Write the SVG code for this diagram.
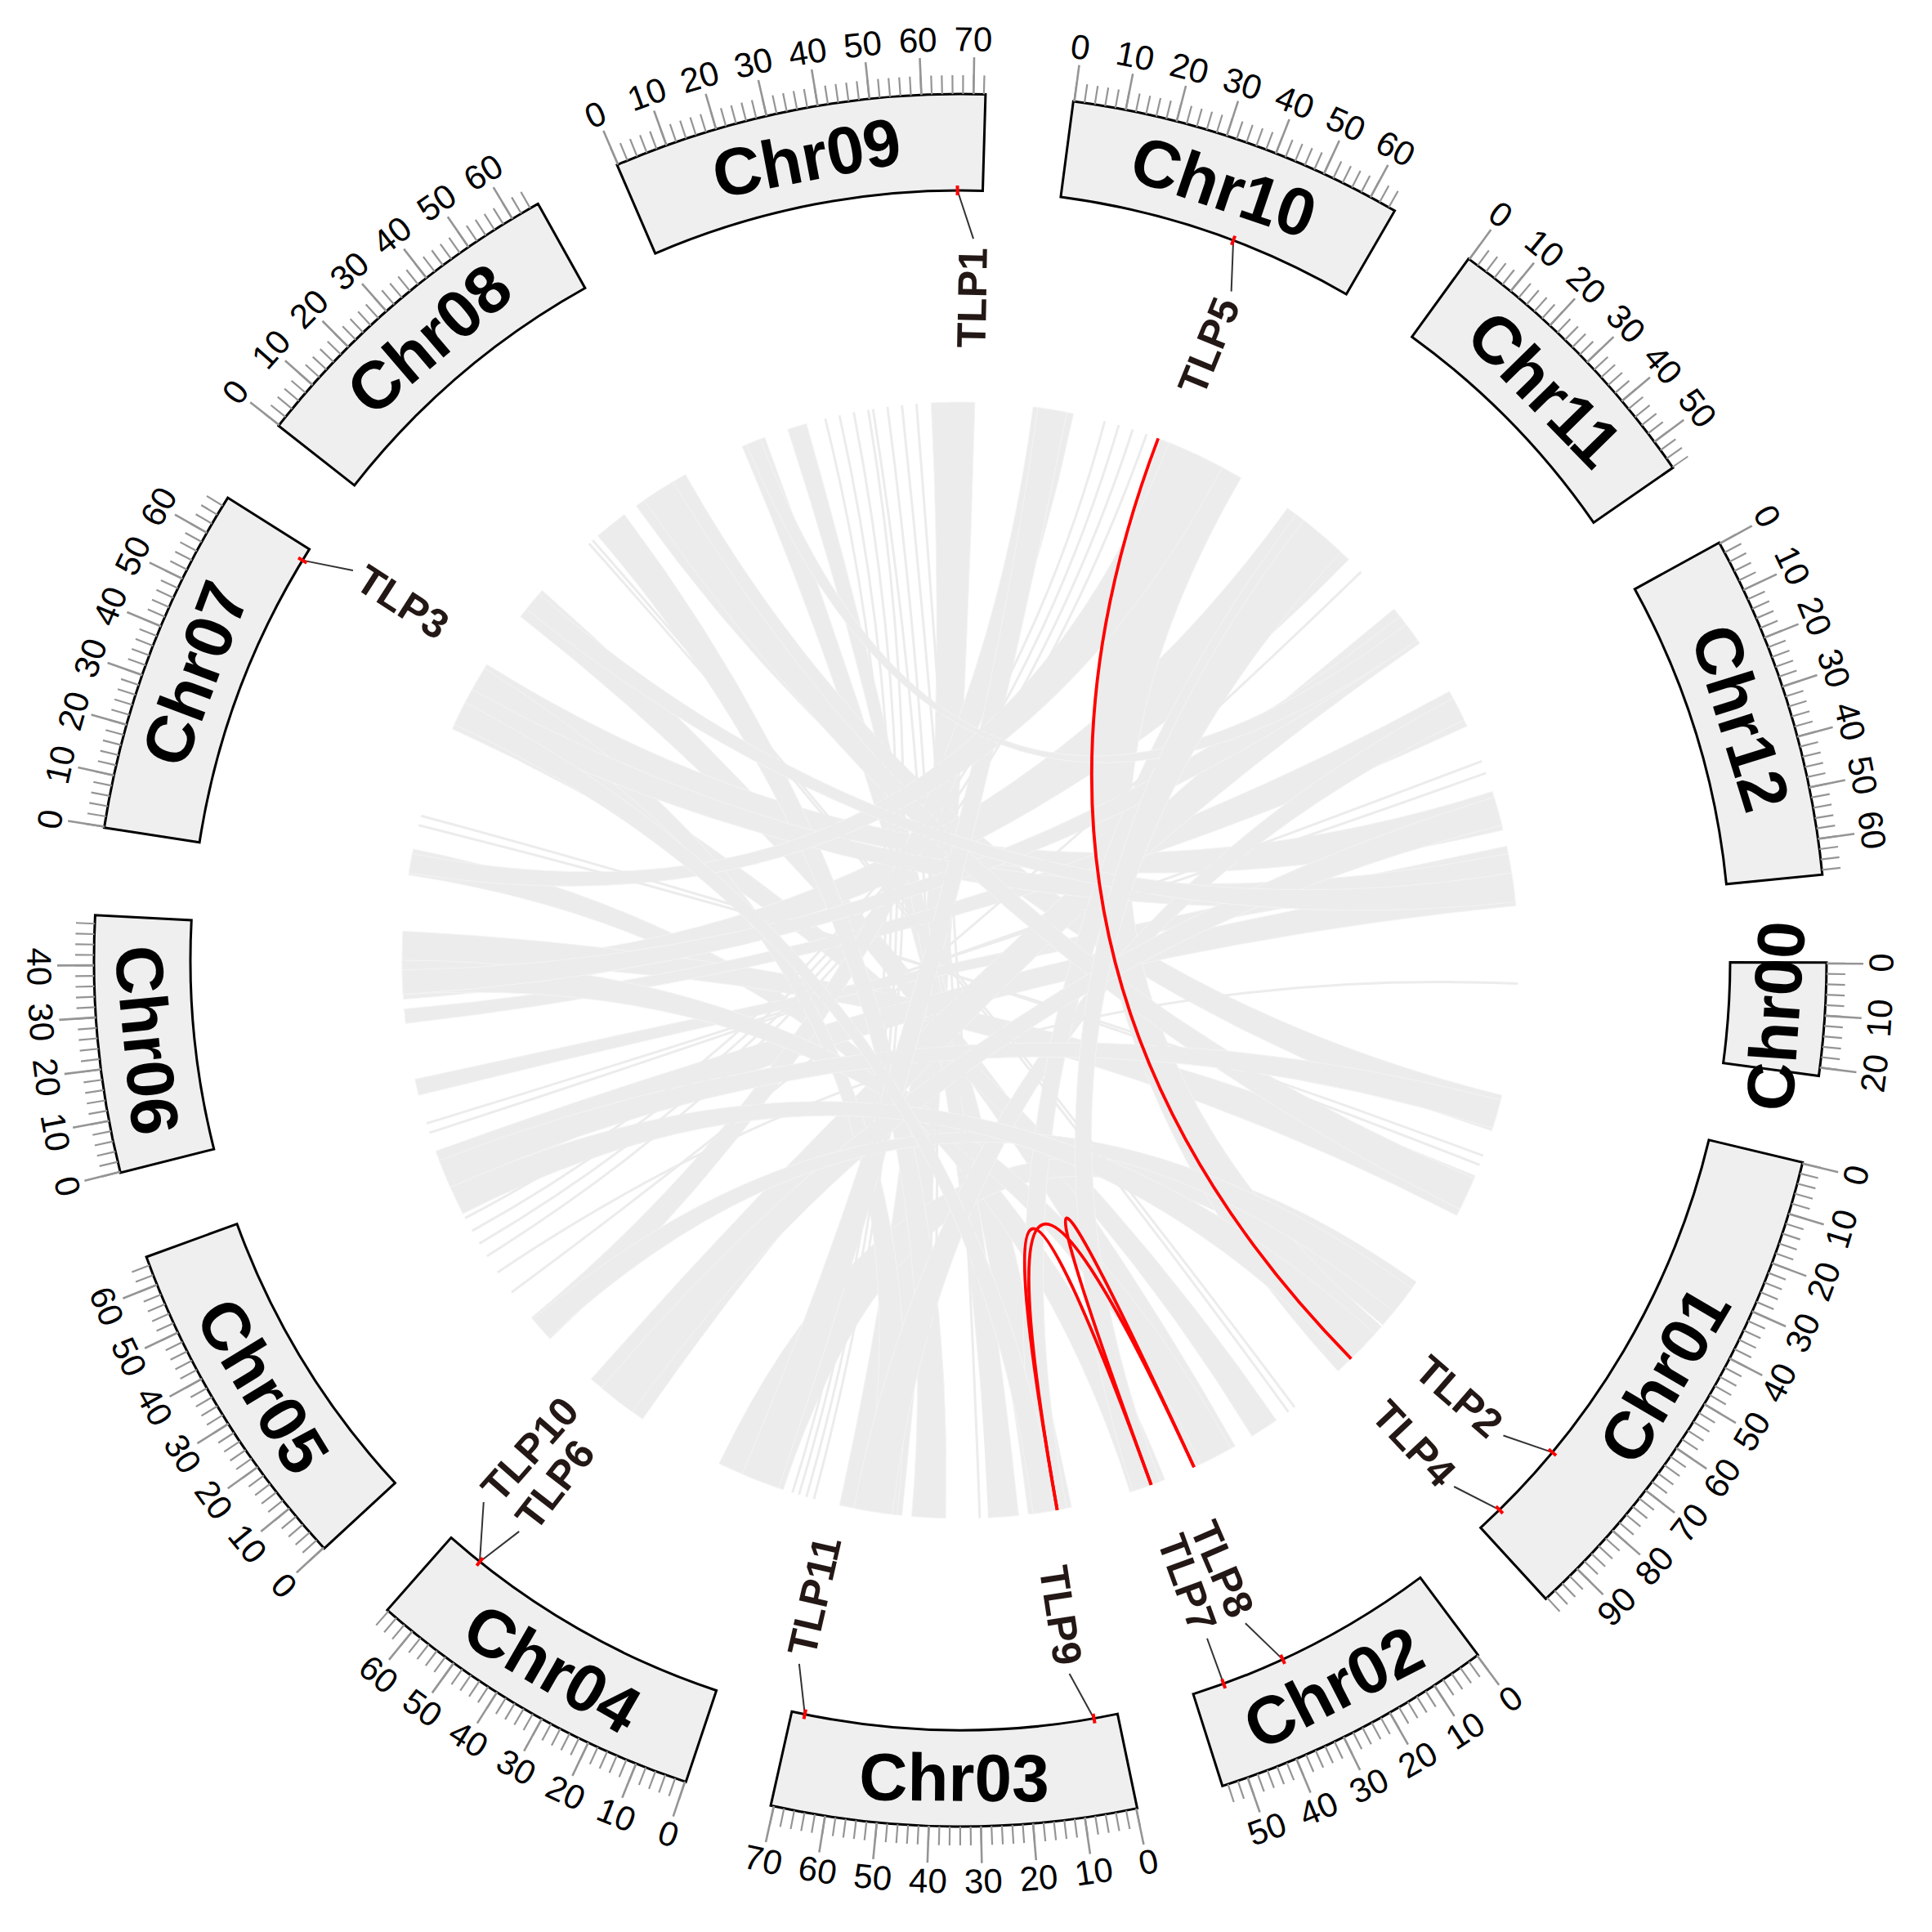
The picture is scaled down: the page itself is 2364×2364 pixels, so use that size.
<svg xmlns="http://www.w3.org/2000/svg" width="2364" height="2364" viewBox="0 0 2364 2364">
<style>
.chr{fill:#EFEFEF;stroke:#000;stroke-width:3;stroke-linejoin:miter}
.tmin{fill:none;stroke:#959595;stroke-width:23;stroke-dasharray:2.2 10.704}
.tmaj{fill:none;stroke:#959595;stroke-width:45;stroke-dasharray:2.6 62.58}
.tl{font-family:"Liberation Sans",Arial,sans-serif;font-size:42px;text-anchor:middle;dominant-baseline:central;fill:#000}
.cl{font-family:"Liberation Sans",Arial,sans-serif;font-weight:bold;font-size:82px;text-anchor:middle;dominant-baseline:central;fill:#000}
.rib{fill:#ECECEC;stroke:#F4F4F4;stroke-width:1}
.thin{fill:none;stroke:#ECECEC;stroke-width:3}
.red{fill:none;stroke:#FF0000;stroke-width:3.8}
.gm{stroke:#FF0000;stroke-width:4}
.ld{stroke:#333;stroke-width:2;fill:none}
.gl{font-family:"Liberation Sans",Arial,sans-serif;font-weight:bold;font-size:50px;fill:#231815;dominant-baseline:central}
.gr{text-anchor:end}
.gf{text-anchor:start}
</style>
<rect width="2364" height="2364" fill="#FFFFFF"/>
<g id="links">
<g id="gray-ribbons" class="rib">
<path d="M1139.25,492.94 A683,683 0 0 1 1192.88,492.26 Q1175,1175 1103.61,1854.26 A683,683 0 0 1 1027.18,1841.78 Q1175,1175 1139.25,492.94Z"/>
<path d="M908.13,546.29 A683,683 0 0 1 935.81,535.27 Q1175,1175 1311.16,1844.26 A683,683 0 0 1 1258.24,1852.91 Q1175,1175 908.13,546.29Z"/>
<path d="M963.94,525.43 A683,683 0 0 1 986.74,518.46 Q1175,1175 1246.39,1854.26 A683,683 0 0 1 1210.75,1857.06 Q1175,1175 963.94,525.43Z"/>
<path d="M778.39,618.98 A683,683 0 0 1 838.68,580.57 Q1175,1175 1837.71,1340.23 A683,683 0 0 1 1825.29,1383.79 Q1175,1175 778.39,618.98Z"/>
<path d="M636.79,754.50 A683,683 0 0 1 663.48,722.44 Q1175,1175 1511.32,1769.43 A683,683 0 0 1 1463.65,1794.01 Q1175,1175 636.79,754.50Z"/>
<path d="M553.52,891.77 A683,683 0 0 1 571.95,854.35 Q1175,1175 1561.84,1737.86 A683,683 0 0 1 1531.85,1757.33 Q1175,1175 553.52,891.77Z"/>
<path d="M573.65,851.21 A683,683 0 0 1 595.78,813.07 Q1175,1175 1826.01,968.49 A683,683 0 0 1 1839.10,1015.56 Q1175,1175 573.65,851.21Z"/>
<path d="M500.06,1070.52 A683,683 0 0 1 505.74,1038.84 Q1175,1175 1425.32,1810.46 A683,683 0 0 1 1382.65,1825.65 Q1175,1175 500.06,1070.52Z"/>
<path d="M493.66,1222.64 A683,683 0 0 1 492.05,1180.96 Q1175,1175 1575.49,621.75 A683,683 0 0 1 1650.30,684.53 Q1175,1175 493.66,1222.64Z"/>
<path d="M492.01,1178.58 A683,683 0 0 1 492.94,1139.25 Q1175,1175 1805.08,1438.57 A683,683 0 0 1 1782.46,1487.19 Q1175,1175 492.01,1178.58Z"/>
<path d="M496.41,1252.32 A683,683 0 0 1 494.60,1234.53 Q1175,1175 1773.51,845.97 A683,683 0 0 1 1795.00,888.52 Q1175,1175 496.41,1252.32Z"/>
<path d="M512.29,1340.23 A683,683 0 0 1 507.70,1320.49 Q1175,1175 1843.55,1035.34 A683,683 0 0 1 1848.61,1062.28 Q1175,1175 512.29,1340.23Z"/>
<path d="M553.03,1457.14 A683,683 0 0 1 533.19,1408.60 Q1175,1175 1849.20,1065.81 A683,683 0 0 1 1854.72,1108.35 Q1175,1175 553.03,1457.14Z"/>
<path d="M673.07,1638.17 A683,683 0 0 1 650.27,1612.18 Q1175,1175 1264.15,497.87 A683,683 0 0 1 1313.50,506.22 Q1175,1175 673.07,1638.17Z"/>
<path d="M786.20,1736.51 A683,683 0 0 1 723.34,1687.31 Q1175,1175 1705.79,745.17 A683,683 0 0 1 1737.18,787.18 Q1175,1175 786.20,1736.51Z"/>
<path d="M1733.10,1568.69 A683,683 0 0 1 1692.02,1621.28 Q1175,1175 958.29,1822.68 A683,683 0 0 1 879.89,1790.93 Q1175,1175 1733.10,1568.69Z"/>
<path d="M1419.77,537.36 A683,683 0 0 1 1518.55,584.72 Q1175,1175 1690.47,1623.09 A683,683 0 0 1 1637.29,1677.73 Q1175,1175 1419.77,537.36Z"/>
<path d="M1157.12,1857.74 A683,683 0 0 1 1115.47,1855.40 Q1175,1175 731.44,655.66 A683,683 0 0 1 763.96,629.53 Q1175,1175 1157.12,1857.74Z"/>
<path d="M1097.68,1853.59 A683,683 0 0 1 1056.40,1847.62 Q1175,1175 577.63,843.87 A683,683 0 0 1 592.67,818.15 Q1175,1175 1097.68,1853.59Z"/>
<path d="M1506.13,1772.37 A683,683 0 0 1 1469.03,1791.45 Q1175,1175 493.30,1216.70 A683,683 0 0 1 492,1175 Q1175,1175 1506.13,1772.37Z"/>
<path d="M561.12,875.59 A683,683 0 0 1 577.63,843.87 Q1175,1175 1845.45,1044.68 A683,683 0 0 1 1852.91,1091.76 Q1175,1175 561.12,875.59Z"/>
<path d="M1778.05,854.35 A683,683 0 0 1 1791.45,880.97 Q1175,1175 1091.76,1852.91 A683,683 0 0 1 1044.68,1845.45 Q1175,1175 1778.05,854.35Z"/>
<path d="M1586.04,629.53 A683,683 0 0 1 1632.02,667.43 Q1175,1175 1305.32,1845.45 A683,683 0 0 1 1270.06,1851.35 Q1175,1175 1586.04,629.53Z"/>
<path d="M1713.21,754.50 A683,683 0 0 1 1734.48,783.25 Q1175,1175 493.30,1216.70 A683,683 0 0 1 492.10,1186.92 Q1175,1175 1713.21,754.50Z"/>
<path d="M1803.71,1441.87 A683,683 0 0 1 1786.22,1479.75 Q1175,1175 788.16,612.14 A683,683 0 0 1 823.23,589.56 Q1175,1175 1803.71,1441.87Z"/>
<path d="M1836.22,1346.00 A683,683 0 0 1 1826.37,1380.38 Q1175,1175 551.05,1452.80 A683,683 0 0 1 537.36,1419.77 Q1175,1175 1836.22,1346.00Z"/>
<path d="M1270.06,498.65 A683,683 0 0 1 1305.32,504.55 Q1175,1175 952.64,1820.79 A683,683 0 0 1 908.13,1803.71 Q1175,1175 1270.06,498.65Z"/>
<path d="M500.41,1068.16 A683,683 0 0 1 504.55,1044.68 Q1175,1175 1430.86,541.73 A683,683 0 0 1 1495.65,571.95 Q1175,1175 500.41,1068.16Z"/>
<path d="M1828.16,975.31 A683,683 0 0 1 1837.71,1009.77 Q1175,1175 773.54,1727.56 A683,683 0 0 1 735.98,1698.21 Q1175,1175 1828.16,975.31Z"/>
<path d="M1727.56,1576.46 A683,683 0 0 1 1705.79,1604.83 Q1175,1175 671.46,1636.41 A683,683 0 0 1 651.79,1614.02 Q1175,1175 1727.56,1576.46Z"/>
<path d="M644.21,745.17 A683,683 0 0 1 659.53,726.91 Q1175,1175 1849.59,1068.16 A683,683 0 0 1 1854.26,1103.61 Q1175,1175 644.21,745.17Z"/>
<path d="M913.63,544.01 A683,683 0 0 1 930.23,537.36 Q1175,1175 1720.47,763.96 A683,683 0 0 1 1734.48,783.25 Q1175,1175 913.63,544.01Z"/>
<path d="M1682.57,1632.02 A683,683 0 0 1 1649.45,1666.31 Q1175,1175 566.44,1485.08 A683,683 0 0 1 551.05,1452.80 Q1175,1175 1682.57,1632.02Z"/>
<path d="M1595.50,636.79 A683,683 0 0 1 1640.80,675.49 Q1175,1175 1419.77,1812.64 A683,683 0 0 1 1386.06,1824.57 Q1175,1175 1595.50,636.79Z"/>
<path d="M1293.60,1847.62 A683,683 0 0 1 1264.15,1852.13 Q1175,1175 555.99,886.35 A683,683 0 0 1 569.19,859.63 Q1175,1175 1293.60,1847.62Z"/>
</g>
<g id="gray-lines" class="thin">
<path d="M1068.16,500.41 Q1175,1175 1123.79,1856.06"/>
<path d="M1085.85,497.87 Q1175,1175 1133.30,1856.70"/>
<path d="M1103.61,495.74 Q1175,1175 1198.84,1857.58"/>
<path d="M1121.41,494.13 Q1175,1175 1210.75,1857.06"/>
<path d="M1009.77,512.29 Q1175,1175 969.62,1826.37"/>
<path d="M1027.18,508.22 Q1175,1175 977.60,1828.84"/>
<path d="M1044.68,504.55 Q1175,1175 986.74,1831.54"/>
<path d="M1062.28,501.39 Q1175,1175 995.93,1834.09"/>
<path d="M720.66,665.06 Q1175,1175 1576.46,1727.56"/>
<path d="M725.12,661.11 Q1175,1175 1584.12,1721.89"/>
<path d="M512.29,1009.77 Q1175,1175 1814.73,1414.19"/>
<path d="M515.27,998.23 Q1175,1175 1810.46,1425.32"/>
<path d="M595.78,1536.93 Q1175,1175 1402.98,531.20"/>
<path d="M586.53,1521.64 Q1175,1175 1386.06,525.43"/>
<path d="M577.63,1506.13 Q1175,1175 1368.98,520.15"/>
<path d="M569.19,1490.37 Q1175,1175 1351.77,515.27"/>
<path d="M1813.06,931.35 Q1175,1175 525.43,1386.06"/>
<path d="M1818.40,945.90 Q1175,1175 521.84,1374.69"/>
<path d="M1665.47,699.70 Q1175,1175 625.98,1581.25"/>
<path d="M1857.37,1203.60 Q1175,1175 608.77,1556.93"/>
</g>
<g id="red-links" class="red">
<path d="M1417.20,536.40 Q1175,1175 1653.28,1662.55"/>
<path d="M1293.60,1847.62 Q1175,1175 1408.60,1816.81"/>
<path d="M1293.60,1847.62 Q1175,1175 1461.05,1795.20"/>
<path d="M1408.60,1816.81 Q1175,1175 1461.05,1795.20"/>
</g>
</g>

<g id="Chr00">
<g transform="rotate(90.15 1175 1175)">
<path class="chr" d="M1175,233 L1175,115 A1060,1060 0 0 1 1313.74,124.12 L1298.30,241.10 A942,942 0 0 0 1175,233Z"/>
<path class="tmin" d="M1175,103.5 A1071.5,1071.5 0 0 1 1315.25,112.72"/>
<path class="tmaj" d="M1175,92.5 A1082.5,1082.5 0 0 1 1316.69,101.81"/>
</g>
<text class="tl" transform="rotate(-89.85 1175 1175)" x="1175" y="2302">0</text>
<text class="tl" transform="rotate(-86.4 1175 1175)" x="1175" y="2302">10</text>
<text class="tl" transform="rotate(-82.95 1175 1175)" x="1175" y="2302">20</text>
<text class="cl" transform="rotate(-86.09 1175 1175)" x="1175" y="2175">Chr00</text>
</g>

<g id="Chr01">
<g transform="rotate(103.498 1175 1175)">
<path class="chr" d="M1175,233 L1175,115 A1060,1060 0 0 1 1767.48,296.04 L1701.53,393.89 A942,942 0 0 0 1175,233Z"/>
<path class="tmin" d="M1175,103.5 A1071.5,1071.5 0 0 1 1773.91,286.51"/>
<path class="tmaj" d="M1175,92.5 A1082.5,1082.5 0 0 1 1780.06,277.39"/>
</g>
<text class="tl" transform="rotate(-76.5 1175 1175)" x="1175" y="2302">0</text>
<text class="tl" transform="rotate(-73.05 1175 1175)" x="1175" y="2302">10</text>
<text class="tl" transform="rotate(-69.6 1175 1175)" x="1175" y="2302">20</text>
<text class="tl" transform="rotate(-66.15 1175 1175)" x="1175" y="2302">30</text>
<text class="tl" transform="rotate(-62.7 1175 1175)" x="1175" y="2302">40</text>
<text class="tl" transform="rotate(-59.25 1175 1175)" x="1175" y="2302">50</text>
<text class="tl" transform="rotate(-55.8 1175 1175)" x="1175" y="2302">60</text>
<text class="tl" transform="rotate(-52.35 1175 1175)" x="1175" y="2302">70</text>
<text class="tl" transform="rotate(-48.9 1175 1175)" x="1175" y="2302">80</text>
<text class="tl" transform="rotate(-45.45 1175 1175)" x="1175" y="2302">90</text>
<text class="cl" transform="rotate(-59.51 1175 1175)" x="1175" y="2175">Chr01</text>
</g>

<g id="Chr02">
<g transform="rotate(143.308 1175 1175)">
<path class="chr" d="M1175,233 L1175,115 A1060,1060 0 0 1 1521.48,173.23 L1482.91,284.74 A942,942 0 0 0 1175,233Z"/>
<path class="tmin" d="M1175,103.5 A1071.5,1071.5 0 0 1 1525.24,162.36"/>
<path class="tmaj" d="M1175,92.5 A1082.5,1082.5 0 0 1 1528.84,151.96"/>
</g>
<text class="tl" transform="rotate(-36.69 1175 1175)" x="1175" y="2302">0</text>
<text class="tl" transform="rotate(-33.24 1175 1175)" x="1175" y="2302">10</text>
<text class="tl" transform="rotate(-29.79 1175 1175)" x="1175" y="2302">20</text>
<text class="tl" transform="rotate(-26.34 1175 1175)" x="1175" y="2302">30</text>
<text class="tl" transform="rotate(-22.89 1175 1175)" x="1175" y="2302">40</text>
<text class="tl" transform="rotate(-19.44 1175 1175)" x="1175" y="2302">50</text>
<text class="cl" transform="rotate(-27.15 1175 1175)" x="1175" y="2175">Chr02</text>
</g>

<g id="Chr03">
<g transform="rotate(168.214 1175 1175)">
<path class="chr" d="M1175,233 L1175,115 A1060,1060 0 0 1 1613.33,209.87 L1564.53,317.31 A942,942 0 0 0 1175,233Z"/>
<path class="tmin" d="M1175,103.5 A1071.5,1071.5 0 0 1 1618.08,199.40"/>
<path class="tmaj" d="M1175,92.5 A1082.5,1082.5 0 0 1 1622.63,189.39"/>
</g>
<text class="tl" transform="rotate(-11.79 1175 1175)" x="1175" y="2302">0</text>
<text class="tl" transform="rotate(-8.34 1175 1175)" x="1175" y="2302">10</text>
<text class="tl" transform="rotate(-4.89 1175 1175)" x="1175" y="2302">20</text>
<text class="tl" transform="rotate(-1.44 1175 1175)" x="1175" y="2302">30</text>
<text class="tl" transform="rotate(2.01 1175 1175)" x="1175" y="2302">40</text>
<text class="tl" transform="rotate(5.46 1175 1175)" x="1175" y="2302">50</text>
<text class="tl" transform="rotate(8.91 1175 1175)" x="1175" y="2302">60</text>
<text class="tl" transform="rotate(12.36 1175 1175)" x="1175" y="2302">70</text>
<text class="cl" transform="rotate(0.43 1175 1175)" x="1175" y="2175">Chr03</text>
</g>

<g id="Chr04">
<g transform="rotate(198.467 1175 1175)">
<path class="chr" d="M1175,233 L1175,115 A1060,1060 0 0 1 1588.20,198.85 L1542.21,307.52 A942,942 0 0 0 1175,233Z"/>
<path class="tmin" d="M1175,103.5 A1071.5,1071.5 0 0 1 1592.69,188.26"/>
<path class="tmaj" d="M1175,92.5 A1082.5,1082.5 0 0 1 1596.97,178.13"/>
</g>
<text class="tl" transform="rotate(18.47 1175 1175)" x="1175" y="2302">0</text>
<text class="tl" transform="rotate(21.92 1175 1175)" x="1175" y="2302">10</text>
<text class="tl" transform="rotate(25.37 1175 1175)" x="1175" y="2302">20</text>
<text class="tl" transform="rotate(28.82 1175 1175)" x="1175" y="2302">30</text>
<text class="tl" transform="rotate(32.27 1175 1175)" x="1175" y="2302">40</text>
<text class="tl" transform="rotate(35.72 1175 1175)" x="1175" y="2302">50</text>
<text class="tl" transform="rotate(39.17 1175 1175)" x="1175" y="2302">60</text>
<text class="cl" transform="rotate(29.94 1175 1175)" x="1175" y="2175">Chr04</text>
</g>

<g id="Chr05">
<g transform="rotate(227.237 1175 1175)">
<path class="chr" d="M1175,233 L1175,115 A1060,1060 0 0 1 1584.67,197.37 L1539.07,306.20 A942,942 0 0 0 1175,233Z"/>
<path class="tmin" d="M1175,103.5 A1071.5,1071.5 0 0 1 1589.12,186.76"/>
<path class="tmaj" d="M1175,92.5 A1082.5,1082.5 0 0 1 1593.37,176.61"/>
</g>
<text class="tl" transform="rotate(47.24 1175 1175)" x="1175" y="2302">0</text>
<text class="tl" transform="rotate(50.69 1175 1175)" x="1175" y="2302">10</text>
<text class="tl" transform="rotate(54.14 1175 1175)" x="1175" y="2302">20</text>
<text class="tl" transform="rotate(57.59 1175 1175)" x="1175" y="2302">30</text>
<text class="tl" transform="rotate(61.04 1175 1175)" x="1175" y="2302">40</text>
<text class="tl" transform="rotate(64.49 1175 1175)" x="1175" y="2302">50</text>
<text class="tl" transform="rotate(67.94 1175 1175)" x="1175" y="2302">60</text>
<text class="cl" transform="rotate(58.61 1175 1175)" x="1175" y="2175">Chr05</text>
</g>

<g id="Chr06">
<g transform="rotate(255.8 1175 1175)">
<path class="chr" d="M1175,233 L1175,115 A1060,1060 0 0 1 1488.12,162.30 L1453.26,275.03 A942,942 0 0 0 1175,233Z"/>
<path class="tmin" d="M1175,103.5 A1071.5,1071.5 0 0 1 1491.51,151.31"/>
<path class="tmaj" d="M1175,92.5 A1082.5,1082.5 0 0 1 1494.76,140.80"/>
</g>
<text class="tl" transform="rotate(75.8 1175 1175)" x="1175" y="2302">0</text>
<text class="tl" transform="rotate(79.25 1175 1175)" x="1175" y="2302">10</text>
<text class="tl" transform="rotate(82.7 1175 1175)" x="1175" y="2302">20</text>
<text class="tl" transform="rotate(86.15 1175 1175)" x="1175" y="2302">30</text>
<text class="tl" transform="rotate(89.6 1175 1175)" x="1175" y="2302">40</text>
<text class="cl" transform="rotate(84.39 1175 1175)" x="1175" y="2175">Chr06</text>
</g>

<g id="Chr07">
<g transform="rotate(278.808 1175 1175)">
<path class="chr" d="M1175,233 L1175,115 A1060,1060 0 0 1 1597.00,202.62 L1550.02,310.87 A942,942 0 0 0 1175,233Z"/>
<path class="tmin" d="M1175,103.5 A1071.5,1071.5 0 0 1 1601.57,192.07"/>
<path class="tmaj" d="M1175,92.5 A1082.5,1082.5 0 0 1 1605.95,181.98"/>
</g>
<text class="tl" transform="rotate(-81.19 1175 1175)" x="1175" y="48">0</text>
<text class="tl" transform="rotate(-77.74 1175 1175)" x="1175" y="48">10</text>
<text class="tl" transform="rotate(-74.29 1175 1175)" x="1175" y="48">20</text>
<text class="tl" transform="rotate(-70.84 1175 1175)" x="1175" y="48">30</text>
<text class="tl" transform="rotate(-67.39 1175 1175)" x="1175" y="48">40</text>
<text class="tl" transform="rotate(-63.94 1175 1175)" x="1175" y="48">50</text>
<text class="tl" transform="rotate(-60.49 1175 1175)" x="1175" y="48">60</text>
<text class="cl" transform="rotate(-69.46 1175 1175)" x="1175" y="175">Chr07</text>
</g>

<g id="Chr08">
<g transform="rotate(308.095 1175 1175)">
<path class="chr" d="M1175,233 L1175,115 A1060,1060 0 0 1 1584.67,197.37 L1539.07,306.20 A942,942 0 0 0 1175,233Z"/>
<path class="tmin" d="M1175,103.5 A1071.5,1071.5 0 0 1 1589.12,186.76"/>
<path class="tmaj" d="M1175,92.5 A1082.5,1082.5 0 0 1 1593.37,176.61"/>
</g>
<text class="tl" transform="rotate(-51.9 1175 1175)" x="1175" y="48">0</text>
<text class="tl" transform="rotate(-48.45 1175 1175)" x="1175" y="48">10</text>
<text class="tl" transform="rotate(-45 1175 1175)" x="1175" y="48">20</text>
<text class="tl" transform="rotate(-41.55 1175 1175)" x="1175" y="48">30</text>
<text class="tl" transform="rotate(-38.1 1175 1175)" x="1175" y="48">40</text>
<text class="tl" transform="rotate(-34.65 1175 1175)" x="1175" y="48">50</text>
<text class="tl" transform="rotate(-31.2 1175 1175)" x="1175" y="48">60</text>
<text class="cl" transform="rotate(-40.54 1175 1175)" x="1175" y="175">Chr08</text>
</g>

<g id="Chr09">
<g transform="rotate(336.658 1175 1175)">
<path class="chr" d="M1175,233 L1175,115 A1060,1060 0 0 1 1623.19,214.42 L1573.30,321.35 A942,942 0 0 0 1175,233Z"/>
<path class="tmin" d="M1175,103.5 A1071.5,1071.5 0 0 1 1628.06,203.99"/>
<path class="tmaj" d="M1175,92.5 A1082.5,1082.5 0 0 1 1632.71,194.03"/>
</g>
<text class="tl" transform="rotate(-23.34 1175 1175)" x="1175" y="48">0</text>
<text class="tl" transform="rotate(-19.89 1175 1175)" x="1175" y="48">10</text>
<text class="tl" transform="rotate(-16.44 1175 1175)" x="1175" y="48">20</text>
<text class="tl" transform="rotate(-12.99 1175 1175)" x="1175" y="48">30</text>
<text class="tl" transform="rotate(-9.54 1175 1175)" x="1175" y="48">40</text>
<text class="tl" transform="rotate(-6.09 1175 1175)" x="1175" y="48">50</text>
<text class="tl" transform="rotate(-2.64 1175 1175)" x="1175" y="48">60</text>
<text class="tl" transform="rotate(0.81 1175 1175)" x="1175" y="48">70</text>
<text class="cl" transform="rotate(-10.83 1175 1175)" x="1175" y="175">Chr09</text>
</g>

<g id="Chr10">
<g transform="rotate(7.498 1175 1175)">
<path class="chr" d="M1175,233 L1175,115 A1060,1060 0 0 1 1582.32,196.38 L1536.98,305.32 A942,942 0 0 0 1175,233Z"/>
<path class="tmin" d="M1175,103.5 A1071.5,1071.5 0 0 1 1586.74,185.77"/>
<path class="tmaj" d="M1175,92.5 A1082.5,1082.5 0 0 1 1590.96,175.61"/>
</g>
<text class="tl" transform="rotate(7.5 1175 1175)" x="1175" y="48">0</text>
<text class="tl" transform="rotate(10.95 1175 1175)" x="1175" y="48">10</text>
<text class="tl" transform="rotate(14.4 1175 1175)" x="1175" y="48">20</text>
<text class="tl" transform="rotate(17.85 1175 1175)" x="1175" y="48">30</text>
<text class="tl" transform="rotate(21.3 1175 1175)" x="1175" y="48">40</text>
<text class="tl" transform="rotate(24.75 1175 1175)" x="1175" y="48">50</text>
<text class="tl" transform="rotate(28.2 1175 1175)" x="1175" y="48">60</text>
<text class="cl" transform="rotate(18.8 1175 1175)" x="1175" y="175">Chr10</text>
</g>

<g id="Chr11">
<g transform="rotate(35.923 1175 1175)">
<path class="chr" d="M1175,233 L1175,115 A1060,1060 0 0 1 1527.51,175.33 L1488.27,286.61 A942,942 0 0 0 1175,233Z"/>
<path class="tmin" d="M1175,103.5 A1071.5,1071.5 0 0 1 1531.33,164.49"/>
<path class="tmaj" d="M1175,92.5 A1082.5,1082.5 0 0 1 1535.00,154.11"/>
</g>
<text class="tl" transform="rotate(35.92 1175 1175)" x="1175" y="48">0</text>
<text class="tl" transform="rotate(39.37 1175 1175)" x="1175" y="48">10</text>
<text class="tl" transform="rotate(42.82 1175 1175)" x="1175" y="48">20</text>
<text class="tl" transform="rotate(46.27 1175 1175)" x="1175" y="48">30</text>
<text class="tl" transform="rotate(49.72 1175 1175)" x="1175" y="48">40</text>
<text class="tl" transform="rotate(53.17 1175 1175)" x="1175" y="48">50</text>
<text class="cl" transform="rotate(45.64 1175 1175)" x="1175" y="175">Chr11</text>
</g>

<g id="Chr12">
<g transform="rotate(61.174 1175 1175)">
<path class="chr" d="M1175,233 L1175,115 A1060,1060 0 0 1 1591.73,200.35 L1545.34,308.85 A942,942 0 0 0 1175,233Z"/>
<path class="tmin" d="M1175,103.5 A1071.5,1071.5 0 0 1 1596.25,189.77"/>
<path class="tmaj" d="M1175,92.5 A1082.5,1082.5 0 0 1 1600.58,179.66"/>
</g>
<text class="tl" transform="rotate(61.17 1175 1175)" x="1175" y="48">0</text>
<text class="tl" transform="rotate(64.62 1175 1175)" x="1175" y="48">10</text>
<text class="tl" transform="rotate(68.07 1175 1175)" x="1175" y="48">20</text>
<text class="tl" transform="rotate(71.52 1175 1175)" x="1175" y="48">30</text>
<text class="tl" transform="rotate(74.97 1175 1175)" x="1175" y="48">40</text>
<text class="tl" transform="rotate(78.42 1175 1175)" x="1175" y="48">50</text>
<text class="tl" transform="rotate(81.87 1175 1175)" x="1175" y="48">60</text>
<text class="cl" transform="rotate(72.75 1175 1175)" x="1175" y="175">Chr12</text>
</g>

<g id="genes">
<g id="TLP1">
<line class="ld" x1="1171.55" y1="233" x2="1191.03" y2="292.15"/>
<line class="gm" transform="rotate(-0.21 1175 1175)" x1="1175" y1="227" x2="1175" y2="239"/>
<text class="gl gr" transform="rotate(-88.96 1175 1175)" x="2047" y="1175">TLP1</text>
</g>
<g id="TLP5">
<line class="ld" x1="1509.05" y1="294.21" x2="1506.64" y2="356.64"/>
<line class="gm" transform="rotate(20.77 1175 1175)" x1="1175" y1="227" x2="1175" y2="239"/>
<text class="gl gr" transform="rotate(-67.94 1175 1175)" x="2047" y="1175">TLP5</text>
</g>
<g id="TLP3">
<line class="ld" x1="370.10" y1="685.61" x2="431.93" y2="697.96"/>
<line class="gm" transform="rotate(301.3 1175 1175)" x1="1175" y1="227" x2="1175" y2="239"/>
<text class="gl gf" transform="rotate(32.7 1175 1175)" x="303" y="1175">TLP3</text>
</g>
<g id="TLP2">
<line class="ld" x1="1899.47" y1="1777.11" x2="1839.49" y2="1756.51"/>
<line class="gm" transform="rotate(129.73 1175 1175)" x1="1175" y1="227" x2="1175" y2="239"/>
<text class="gl gr" transform="rotate(41.19 1175 1175)" x="2047" y="1175">TLP2</text>
</g>
<g id="TLP4">
<line class="ld" x1="1834.67" y1="1847.46" x2="1779.12" y2="1819.00"/>
<line class="gm" transform="rotate(135.55 1175 1175)" x1="1175" y1="227" x2="1175" y2="239"/>
<text class="gl gr" transform="rotate(46.83 1175 1175)" x="2047" y="1175">TLP4</text>
</g>
<g id="TLP8">
<line class="ld" x1="1569.53" y1="2030.40" x2="1523.85" y2="1986.18"/>
<line class="gm" transform="rotate(155.24 1175 1175)" x1="1175" y1="227" x2="1175" y2="239"/>
<text class="gl gr" transform="rotate(66.73 1175 1175)" x="2047" y="1175">TLP8</text>
</g>
<g id="TLP7">
<line class="ld" x1="1497.18" y1="2060.19" x2="1477.00" y2="2004.75"/>
<line class="gm" transform="rotate(160 1175 1175)" x1="1175" y1="227" x2="1175" y2="239"/>
<text class="gl gr" transform="rotate(69.99 1175 1175)" x="2047" y="1175">TLP7</text>
</g>
<g id="TLP9">
<line class="ld" x1="1338.58" y1="2102.69" x2="1308.57" y2="2047.91"/>
<line class="gm" transform="rotate(170 1175 1175)" x1="1175" y1="227" x2="1175" y2="239"/>
<text class="gl gr" transform="rotate(81.3 1175 1175)" x="2047" y="1175">TLP9</text>
</g>
<g id="TLP11">
<line class="ld" x1="984.77" y1="2097.65" x2="977.85" y2="2035.82"/>
<line class="gm" transform="rotate(191.65 1175 1175)" x1="1175" y1="227" x2="1175" y2="239"/>
<text class="gl gf" transform="rotate(-77.1 1175 1175)" x="303" y="1175">TLP11</text>
</g>
<g id="TLP10">
<line class="ld" x1="587.01" y1="1911.03" x2="591.75" y2="1837.97"/>
<text class="gl gf" transform="rotate(-48.66 1175 1175)" x="303" y="1175">TLP10</text>
</g>
<g id="TLP6">
<line class="ld" x1="587.01" y1="1911.03" x2="635.23" y2="1873.89"/>
<line class="gm" transform="rotate(218.62 1175 1175)" x1="1175" y1="227" x2="1175" y2="239"/>
<text class="gl gf" transform="rotate(-52.32 1175 1175)" x="303" y="1175">TLP6</text>
</g>
</g>
</svg>
